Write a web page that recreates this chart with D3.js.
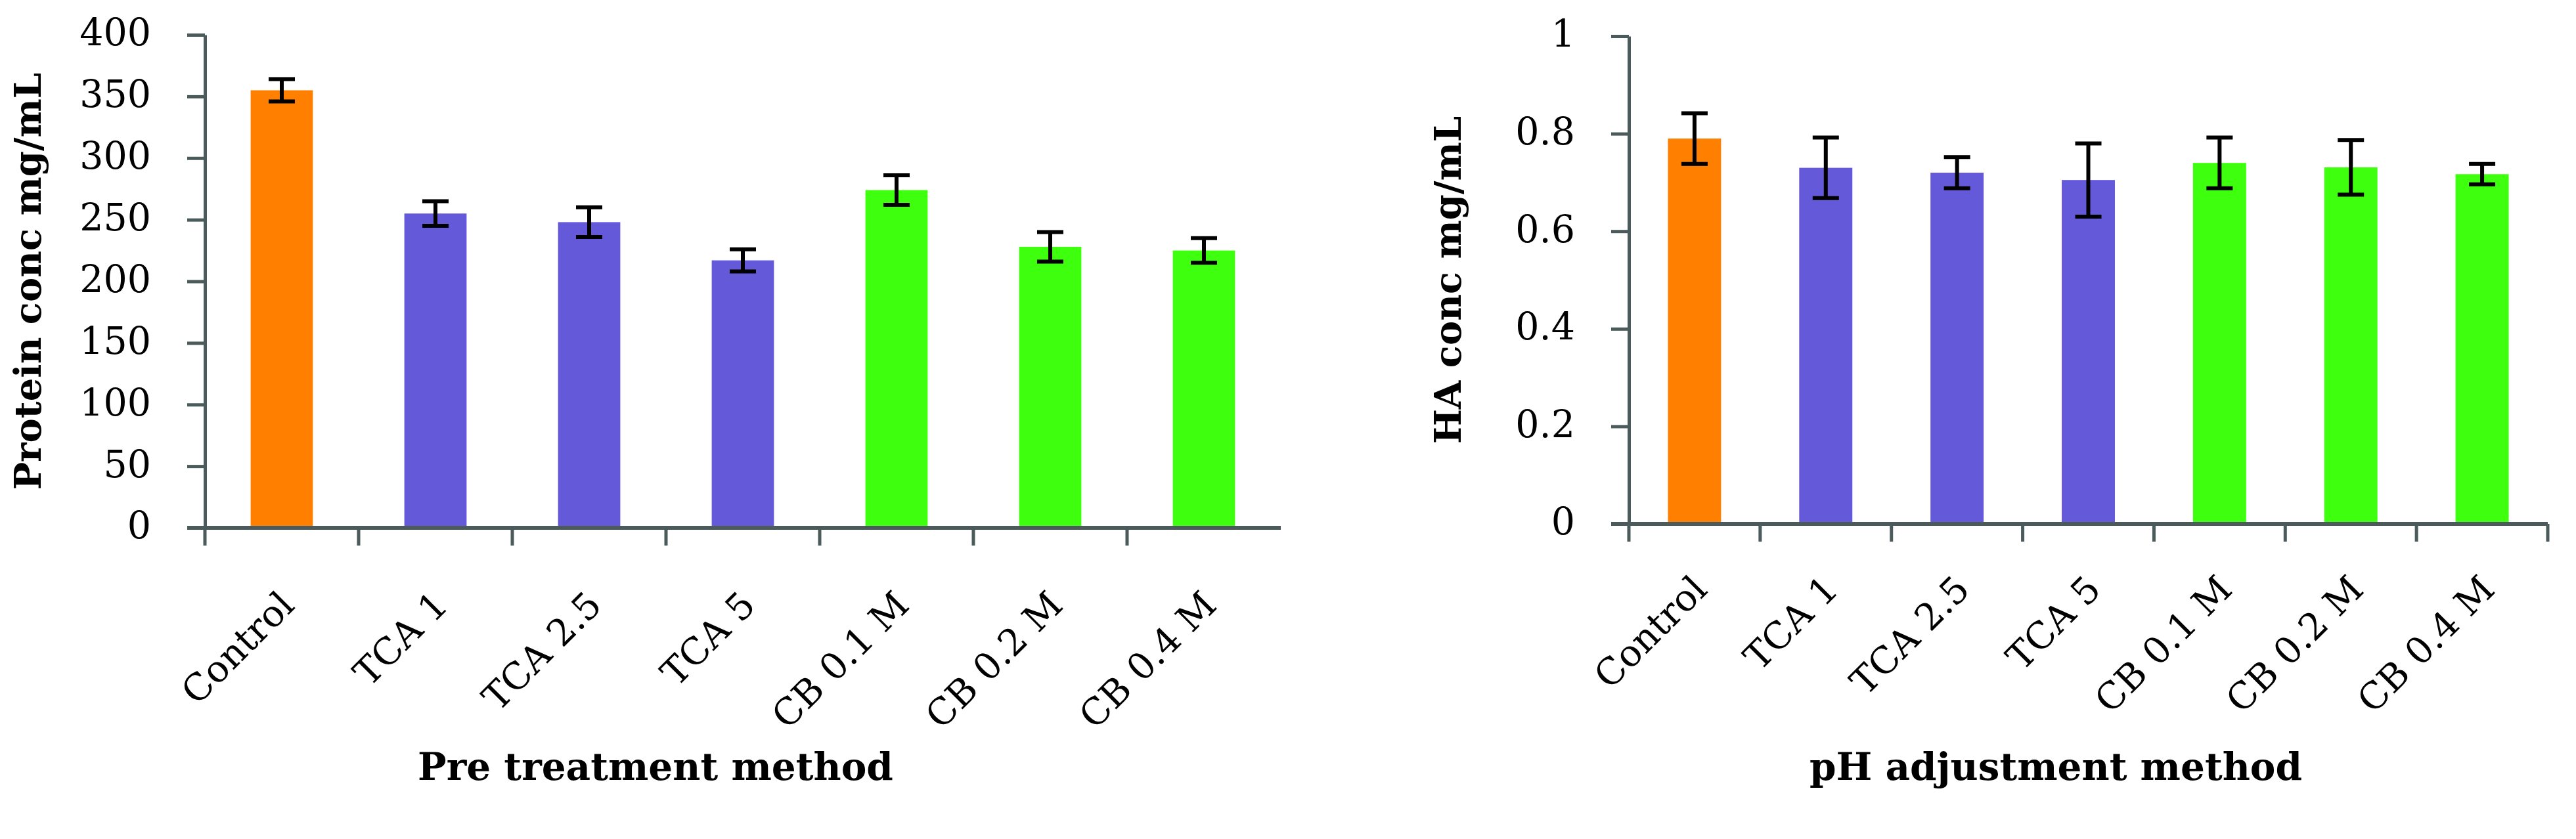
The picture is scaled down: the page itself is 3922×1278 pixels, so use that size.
<!DOCTYPE html>
<html>
<head>
<meta charset="utf-8">
<style>
  body { margin: 0; background: #fff; }
  svg { display: block; }
  .tick-label, .cat-label { font-family: "DejaVu Serif", serif; fill: #000; }
  .axis-title { font-family: "DejaVu Serif", serif; font-weight: bold; fill: #000; }
</style>
</head>
<body>
<svg width="3922" height="1278"></svg>
<script src="https://d3js.org/d3.v7.min.js"></script>
<script>
// categories shared by both panels
var categories = ["Control", "TCA 1", "TCA 2.5", "TCA 5", "CB 0.1 M", "CB 0.2 M", "CB 0.4 M"];
var groups = ["control", "tca", "tca", "tca", "cb", "cb", "cb"];

// left panel: protein
var proteinValues = [355, 255, 248, 217, 274, 228, 225];
var proteinErrors = [9, 10, 12, 9, 12, 12, 10];
var proteinTicks = [0, 50, 100, 150, 200, 250, 300, 350, 400];

// right panel: HA
var haValues = [0.79, 0.73, 0.72, 0.705, 0.74, 0.731, 0.717];
var haErrors = [0.052, 0.062, 0.032, 0.075, 0.052, 0.056, 0.021];
var haTicks = [0, 0.2, 0.4, 0.6, 0.8, 1];

var colors = { control: "#ff8000", tca: "#6459d9", cb: "#3dff0e" };
var axisColor = "#4b5b5b";

var svg = d3.select("svg");

function drawPanel(opt) {
  var g = svg.append("g");

  var x = d3.scaleBand().domain(categories).range([opt.left, opt.right]).paddingInner(0).paddingOuter(0);
  var y = d3.scaleLinear().domain([0, opt.max]).range([opt.bottom, opt.top]);
  var bw = x.bandwidth() * 0.405;

  // bars
  g.selectAll("rect.bar")
    .data(opt.values)
    .enter().append("rect")
      .attr("class", "bar")
      .attr("x", function(d, i) { return x(categories[i]) + x.bandwidth() / 2 - bw / 2; })
      .attr("y", function(d) { return y(d); })
      .attr("width", bw)
      .attr("height", function(d) { return y(0) - y(d); })
      .attr("fill", function(d, i) { return colors[groups[i]]; });

  // y axis
  var yAxis = d3.axisLeft(y).tickValues(opt.ticks).tickSize(27).tickSizeOuter(0).tickPadding(55)
    .tickFormat(function(d) { return String(d); });
  var ya = g.append("g").attr("transform", "translate(" + opt.left + ",0)").call(yAxis);
  ya.select(".domain").attr("stroke", axisColor).attr("stroke-width", 5);
  ya.selectAll(".tick line").attr("stroke", axisColor).attr("stroke-width", 5);
  ya.selectAll(".tick text")
    .attr("class", "tick-label")
    .attr("font-size", 57)
    .attr("dy", "0.28em")
    .style("font-family", "DejaVu Serif");

  // x axis line with boundary ticks
  g.append("line")
    .attr("x1", opt.left - 27).attr("x2", opt.right)
    .attr("y1", y(0)).attr("y2", y(0))
    .attr("stroke", axisColor).attr("stroke-width", 6);

  var bounds = categories.map(function(c) { return x(c); });
  if (opt.endTick) bounds.push(opt.right);
  g.selectAll("line.xtick")
    .data(bounds)
    .enter().append("line")
      .attr("class", "xtick")
      .attr("x1", function(d) { return d; }).attr("x2", function(d) { return d; })
      .attr("y1", y(0)).attr("y2", y(0) + 27)
      .attr("stroke", axisColor).attr("stroke-width", 5);

  // error bars
  var eb = g.selectAll("g.err")
    .data(opt.values)
    .enter().append("g")
      .attr("class", "err")
      .attr("stroke", "#000")
      .attr("stroke-width", 6);
  eb.append("line")
    .attr("x1", function(d, i) { return x(categories[i]) + x.bandwidth() / 2; })
    .attr("x2", function(d, i) { return x(categories[i]) + x.bandwidth() / 2; })
    .attr("y1", function(d, i) { return y(d + opt.errors[i]); })
    .attr("y2", function(d, i) { return y(d - opt.errors[i]); });
  [1, -1].forEach(function(s) {
    eb.append("line")
      .attr("x1", function(d, i) { return x(categories[i]) + x.bandwidth() / 2 - 20; })
      .attr("x2", function(d, i) { return x(categories[i]) + x.bandwidth() / 2 + 20; })
      .attr("y1", function(d, i) { return y(d + s * opt.errors[i]); })
      .attr("y2", function(d, i) { return y(d + s * opt.errors[i]); });
  });

  // category labels, rotated
  g.selectAll("text.cat-label")
    .data(categories)
    .enter().append("text")
      .attr("class", "cat-label")
      .attr("font-size", 56)
      .attr("text-anchor", "end")
      .attr("transform", function(d) {
        return "translate(" + (x(d) + x.bandwidth() / 2 + 22) + "," + (y(0) + opt.labelDy) + ") rotate(-45)";
      })
      .text(function(d) { return d; });

  // axis titles
  g.append("text")
    .attr("class", "axis-title")
    .attr("font-size", 56)
    .attr("text-anchor", "middle")
    .attr("transform", "translate(" + opt.yTitleX + "," + (opt.top + opt.bottom) / 2 + ") rotate(-90)")
    .text(opt.yTitle);

  g.append("text")
    .attr("class", "axis-title")
    .attr("font-size", 58)
    .attr("text-anchor", "middle")
    .attr("x", opt.xTitleX)
    .attr("y", 1188)
    .text(opt.xTitle);
}

drawPanel({
  values: proteinValues, errors: proteinErrors, ticks: proteinTicks, max: 400,
  left: 312, right: 1950, top: 53, bottom: 804,
  endTick: false, labelDy: 121,
  yTitle: "Protein conc mg/mL", yTitleX: 62,
  xTitle: "Pre treatment method", xTitleX: 998
});

drawPanel({
  values: haValues, errors: haErrors, ticks: haTicks, max: 1,
  left: 2480, right: 3879, top: 55, bottom: 798,
  endTick: true, labelDy: 103,
  yTitle: "HA conc mg/mL", yTitleX: 2224,
  xTitle: "pH adjustment method", xTitleX: 3130
});
</script>
</body>
</html>
